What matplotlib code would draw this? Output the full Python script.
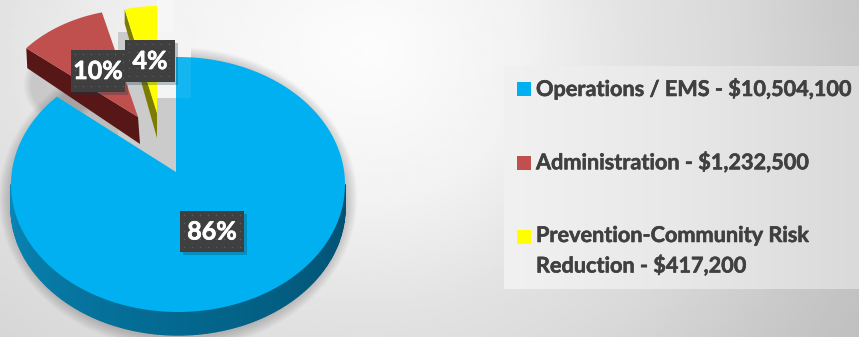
import numpy as np
import matplotlib
matplotlib.use("Agg")
import matplotlib.pyplot as plt
import matplotlib.patheffects as pe
from matplotlib.patches import Rectangle, Ellipse, Polygon
from matplotlib.colors import LinearSegmentedColormap

plt.rcParams['font.family'] = ['Lato', 'DejaVu Sans']

# budget shares, clockwise from 12 o'clock
shares = [86, 10, 4]
share_labels = ["86%", "10%", "4%"]
legend_labels = ["Operations / EMS - $10,504,100",
                 "Administration - $1,232,500",
                 "Prevention-Community Risk\nReduction - $417,200"]

face_colors = ['#00b0f0', '#c0504d', '#ffff00']
side_colors = ['#03688f', '#571717', '#7c7c00']

W, H = 859, 337
CX, CY = 178, 184.5
RX, RY = 167, 127.5
DEPTH = 23
TIP = (176, 172)


def arc(cx, cy, rx, ry, a1, a2, n=120):
    # angles in degrees, clockwise from the top of the ellipse
    t = np.radians(np.linspace(a1, a2, n))
    return cx + rx * np.sin(t), cy - ry * np.cos(t)


def rim_from_tip(a1, a2, n=240):
    # the pie point sits off the ellipse centre, so cast each angle from there
    # onto the unit circle of the pie plane and scale back to pixels
    t = np.radians(np.linspace(a1, a2, n))
    ox, oy = (TIP[0] - CX) / RX, (CY - TIP[1]) / RY
    dx, dy = np.sin(t), np.cos(t)
    b = ox * dx + oy * dy
    r = -b + np.sqrt(b ** 2 + 1 - ox ** 2 - oy ** 2)
    return CX + RX * (ox + r * dx), CY - RY * (oy + r * dy)


def wedge(ax, tip, x, y, color, z):
    pts = np.column_stack([np.r_[tip[0], x], np.r_[tip[1], y]])
    ax.add_patch(Polygon(pts, closed=True, fc=color, ec='none', zorder=z))


def soft_shadow(ax, xy, w, h, z, alpha=0.03, spread=12, steps=10, color='#504848'):
    for k in range(steps):
        g = spread * (1 - k / steps)
        ax.add_patch(Ellipse(xy, w + 2 * g, h + 2 * g, fc=color, ec='none',
                             alpha=alpha, zorder=z))


fig = plt.figure(figsize=(W / 100, H / 100), dpi=100)
ax = fig.add_axes([0, 0, 1, 1])
ax.set_xlim(0, W)
ax.set_ylim(H, 0)
ax.axis('off')

# radial slide background, brightest above the middle of the slide
py, px = np.mgrid[0:H:120j, 0:W:240j]
dist = np.hypot(np.where(px < 370, (px - 370) * 0.7, px - 370), py - 50)
bg = np.interp(dist, [0, 150, 270, 370, 490, 570], [0.99, 0.95, 0.885, 0.85, 0.785, 0.75])
ax.imshow(bg, extent=(0, W, H, 0), cmap='gray', vmin=0, vmax=1, aspect='auto', zorder=0)

# legend panel
panel = np.linspace(0, 1, 200).reshape(1, -1)
panel_cmap = LinearSegmentedColormap.from_list('panel', ['#f1f1f1', '#e8e8e8', '#dadada'])
ax.imshow(panel, extent=(504, W, 289, 66), cmap=panel_cmap, aspect='auto', zorder=0.5)
ax.set_xlim(0, W)
ax.set_ylim(H, 0)

# drop shadow and the pale notch behind the pulled-out slices
soft_shadow(ax, (CX, CY + DEPTH * 0.6), 2 * RX, 2 * RY + DEPTH, 1)
ax.add_patch(Rectangle((118, 32), 58, 140, fc='#cbcbcb', ec='none', zorder=1.5))
ax.add_patch(Rectangle((157, 0), 16, 35, fc='#f6f6f6', ec='none', zorder=1.6))
ax.add_patch(Rectangle((157, 32), 34, 66, fc='#f4f4f4', ec='none', zorder=1.6))

angles = np.r_[0, np.cumsum(shares)] * 3.6

# main slice: rim first, shaded in strips, then the top face
sx, sy = arc(CX, CY, RX, RY, 90, 270, 181)
rim_cmap = LinearSegmentedColormap.from_list('rim', ['#024f70', side_colors[0], '#0a86b6'])
for i in range(len(sx) - 1):
    quad = [(sx[i], sy[i]), (sx[i + 1], sy[i + 1]),
            (sx[i + 1], sy[i + 1] + DEPTH), (sx[i], sy[i] + DEPTH)]
    c = rim_cmap(i / (len(sx) - 2))
    ax.add_patch(Polygon(quad, fc=c, ec=c, lw=1.0, zorder=2))
bx_, by_ = rim_from_tip(angles[0], angles[1])
wedge(ax, TIP, bx_, by_, face_colors[0], 3)

# lighter square left over around the small label
ax.add_patch(Rectangle((176, 57), 15, 41, fc='white', ec='none', alpha=0.08, zorder=3.1))

# yellow slice
y_tip = (157, 113)
y_depth = 25
yx, yy_ = arc(157, 113, 130, 107, angles[2], angles[3], 30)
ax.add_patch(Polygon([(yx[0], yy_[0]), y_tip, (y_tip[0], y_tip[1] + y_depth),
                      (yx[0], yy_[0] + 14)], fc=side_colors[2], ec='none', zorder=4))
wedge(ax, y_tip, yx, yy_, face_colors[2], 4.1)

# red slice
r_tip = (138, 117)
r_depth = 27
soft_shadow(ax, (62, 85), 60, 60, 1.8, alpha=0.03, spread=8, steps=6)
rx_, ry_ = arc(138, 117, 145, 108, angles[1], angles[2], 40)
ax.add_patch(Polygon([(rx_[0], ry_[0]), r_tip, (r_tip[0] + 2, r_tip[1] + r_depth),
                      (rx_[0] + 1, ry_[0] + 20)], fc=side_colors[1], ec='none', zorder=4.2))
wedge(ax, r_tip, rx_, ry_, face_colors[1], 4.3)

# percentage tags with a dotted texture
tag_boxes = [(180, 211, 64, 41), (71, 50, 54, 42), (125, 40, 50, 42)]
for k, (lab, (bx, by, bw, bh)) in enumerate(zip(share_labels, tag_boxes)):
    z = 6 + k
    ax.add_patch(Rectangle((bx + 3, by + 3), bw, bh, fc='#123a4a', ec='none', alpha=0.28, zorder=z - 0.2))
    ax.add_patch(Rectangle((bx, by), bw, bh, fc='#3f3f3f', ec='none', zorder=z))
    dx, dy = np.meshgrid(np.arange(bx + 4, bx + bw, 8), np.arange(by + 4, by + bh, 8))
    ax.scatter(dx.ravel(), dy.ravel(), s=1.2, c='#5c5c5c', linewidths=0, zorder=z + 0.1)
    ax.text(bx + bw / 2, by + bh / 2 + 0.5, lab, color='white', fontsize=18, fontweight='bold',
            ha='center', va='center', zorder=z + 0.2,
            path_effects=[pe.withStroke(linewidth=0.5, foreground='white')])

# legend
legend_y = [89, 163, 237]
for lab, col, ly in zip(legend_labels, face_colors, legend_y):
    ax.add_patch(Rectangle((517, ly - 7), 14, 14, fc=col, ec='none', zorder=5))
    ax.text(536, ly - 12, lab, color='#404040', fontsize=15.6, fontweight='bold',
            ha='left', va='top', linespacing=1.45, zorder=5,
            path_effects=[pe.withStroke(linewidth=0.4, foreground='#404040')])

fig.savefig('out.png', dpi=100)
